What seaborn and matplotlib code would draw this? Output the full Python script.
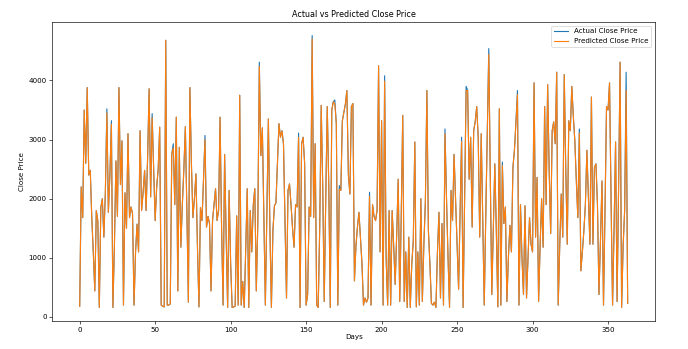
import matplotlib
matplotlib.use("Agg")
import matplotlib.pyplot as plt
import seaborn as sns
import pandas as pd

# actual close price per day
actual_close = [
    180, 2200, 1680, 3500, 2600, 3880, 2400, 2480, 1680, 1100,
    440, 1800, 1630, 160, 1850, 2000, 1350, 2100, 3520, 1770,
    2400, 3320, 160, 1200, 2640, 1700, 3880, 2240, 2980, 200,
    2100, 1500, 3100, 1680, 1860, 1750, 200, 1100, 1570, 1100,
    3150, 1800, 2100, 2480, 1800, 2700, 3860, 2030, 3440, 2500,
    1630, 2200, 2500, 3210, 200, 180, 170, 4680, 200, 200,
    220, 2750, 2930, 1900, 3380, 440, 2870, 1180, 1900, 2500,
    3220, 1800, 250, 3880, 2600, 1680, 2000, 2420, 1200, 170,
    1850, 1630, 2300, 3070, 1520, 1700, 1580, 440, 1630, 1900,
    2170, 1630, 1800, 3380, 1500, 200, 2750, 1400, 160, 2140,
    900, 160, 170, 180, 1710, 200, 3750, 200, 600, 160,
    1200, 2170, 160, 1800, 1100, 1900, 2170, 440, 1600, 4310,
    2730, 3200, 1700, 200, 1800, 3350, 1500, 160, 1460, 1880,
    1930, 2600, 3270, 3040, 3150, 2930, 1600, 320, 2140, 2250,
    1900, 1500, 1180, 1900, 1860, 3110, 160, 2930, 3040, 2600,
    200, 380, 1860, 1700, 4760, 1680, 2930, 200, 160, 1500,
    3580, 2200, 260, 2000, 3560, 2220, 160, 3500, 3640, 3670,
    3270, 200, 2220, 2140, 3320, 3460, 3600, 3830, 2400, 2080,
    3560, 3610, 610, 1200, 1520, 1770, 1350, 900, 200, 320,
    250, 320, 2110, 200, 1900, 1700, 1630, 1800, 4250, 1100,
    3320, 200, 4080, 1000, 200, 1800, 200, 1800, 1200, 550,
    1400, 2330, 260, 1700, 3410, 260, 1100, 160, 1350, 160,
    900, 1290, 2960, 170, 1100, 200, 2000, 260, 1230, 1950,
    3830, 1460, 900, 230, 200, 250, 160, 1100, 1770, 320,
    1580, 200, 3180, 2000, 1010, 160, 2140, 1630, 2750, 2000,
    1200, 470, 1800, 3040, 160, 2000, 3900, 3830, 2330, 3040,
    1520, 3150, 3300, 3560, 3040, 1350, 3100, 1600, 200, 1700,
    3070, 4540, 2360, 380, 1500, 2590, 1460, 170, 3520, 200,
    2620, 1580, 1860, 260, 1000, 1550, 1100, 2530, 2820, 3300,
    3830, 200, 1900, 1000, 380, 1880, 320, 1000, 1680, 1230,
    1100, 3960, 1350, 2360, 260, 1200, 2000, 1180, 3560, 1900,
    3930, 2500, 1410, 3150, 3300, 2930, 4140, 200, 1200, 2080,
    1350, 4100, 2500, 1230, 3320, 3150, 3900, 3400, 2980, 2300,
    1680, 3180, 780, 1100, 1460, 1900, 2820, 2000, 1230, 3720,
    1230, 2530, 2590, 1900, 380, 1300, 2300, 200, 1800, 3560,
    3500, 3960, 2000, 200, 1500, 2960, 260, 2200, 4310, 160,
    1200, 1800, 4140, 230,
]

# days where the predicted line sits visibly below the actual one
predicted_peaks = {
    18: 3450, 21: 3260, 48: 3370, 62: 2860, 83: 3000, 119: 4240,
    145: 3040, 154: 4700, 169: 3600, 172: 2160, 192: 2040, 202: 3990,
    242: 3100, 253: 2970, 256: 3830, 271: 4440, 280: 2560, 290: 3760,
    331: 3110, 362: 3830,
}
predicted_close = [predicted_peaks.get(i, v) for i, v in enumerate(actual_close)]
days = list(range(len(actual_close)))

df = pd.DataFrame({"Days": days, "Actual": actual_close, "Predicted": predicted_close})

plt.rcParams["font.size"] = 9
fig, ax = plt.subplots(figsize=(12, 6.087), dpi=57.34)
fig.subplots_adjust(left=0.076, right=0.952, bottom=0.08, top=0.937)

sns.lineplot(data=df, x="Days", y="Actual", ax=ax, color="tab:blue",
             label="Actual Close Price", linewidth=1.4)
sns.lineplot(data=df, x="Days", y="Predicted", ax=ax, color="tab:orange",
             label="Predicted Close Price", linewidth=1.4)

ax.set_title("Actual vs Predicted Close Price", fontsize=10)
ax.set_xlabel("Days", labelpad=2)
ax.set_ylabel("Close Price")
ax.set_xticks([0, 50, 100, 150, 200, 250, 300, 350])
ax.set_yticks([0, 1000, 2000, 3000, 4000])
ax.legend(loc="upper right")

fig.savefig("out.png", dpi=57.34)
